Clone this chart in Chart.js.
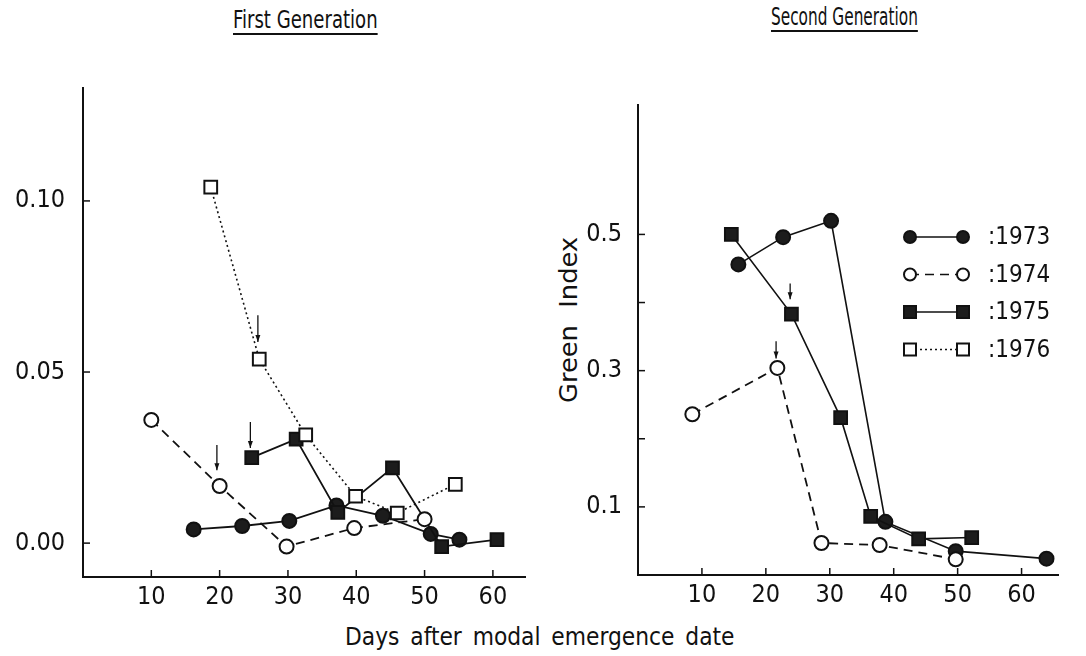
<!DOCTYPE html>
<html>
<head>
<meta charset="utf-8">
<script src="https://cdn.jsdelivr.net/npm/chart.js@4/dist/chart.umd.min.js"></script>
<style>
  body { margin: 0; background: #fff; width: 1086px; height: 656px; position: relative; overflow: hidden;
         font-family: "DejaVu Sans Condensed", "DejaVu Sans", sans-serif; color: #111; }
  #left { position: absolute; left: 0; top: 0; }
  #right { position: absolute; left: 540px; top: 0; }
  .fit { position: absolute; white-space: nowrap; line-height: 1; transform-origin: 0 0; }
  .title { font-size: 24px; text-decoration: underline; text-underline-offset: 5px; text-decoration-thickness: 1.5px; }
  #t1 { left: 233px; top: 8px; }
  #t2 { left: 771px; top: 5px; }
  #ylab { left: 556px; top: 403px; font-size: 25px; word-spacing: 8px; }
  #xlab { left: 345px; top: 624px; font-size: 25px; word-spacing: 4px; }
</style>
</head>
<body>
<div class="fit title" id="t1" data-w="145">First Generation</div>
<div class="fit title" id="t2" data-w="147">Second Generation</div>
<div class="fit" id="ylab" data-w="166" data-rot="1">Green Index</div>
<div class="fit" id="xlab" data-w="390">Days after modal emergence date</div>
<canvas id="left" width="540" height="656"></canvas>
<canvas id="right" width="546" height="656"></canvas>
<script>
// years shown in the key
const years = ["1973", "1974", "1975", "1976"];

// First generation (days after modal emergence, index)
const gen1Days1973 = [16.2, 23.3, 30.2, 37.1, 43.9, 50.9, 55.1];
const gen1Vals1973 = [0.004, 0.005, 0.0065, 0.011, 0.008, 0.0027, 0.001];
const gen1Days1974 = [10, 20, 29.8, 39.7, 50.0];
const gen1Vals1974 = [0.036, 0.0167, -0.001, 0.0044, 0.007];
const gen1Days1975 = [24.7, 31.2, 37.3, 45.3, 52.5, 60.6];
const gen1Vals1975 = [0.025, 0.0304, 0.009, 0.022, -0.001, 0.001];
const gen1Days1976 = [18.7, 25.8, 32.6, 39.9, 46.0, 54.5];
const gen1Vals1976 = [0.104, 0.0538, 0.0316, 0.0137, 0.0088, 0.0172];

// Second generation
const gen2Days1973 = [15.7, 22.7, 30.2, 38.7, 49.7, 63.9];
const gen2Vals1973 = [0.456, 0.496, 0.520, 0.078, 0.035, 0.024];
const gen2Days1974 = [8.5, 21.8, 28.7, 37.8, 49.7];
const gen2Vals1974 = [0.236, 0.304, 0.047, 0.044, 0.023];
const gen2Days1975 = [14.6, 24.0, 31.7, 36.4, 43.9, 52.2];
const gen2Vals1975 = [0.50, 0.383, 0.231, 0.086, 0.053, 0.055];

// down arrows: [day, top value, tip value]
const gen1Arrows = [[25.6, 0.0666, 0.0588], [24.5, 0.0354, 0.0278], [19.6, 0.0287, 0.0213]];
const gen2Arrows = [[23.8, 0.428, 0.405], [21.6, 0.343, 0.318]];

// ticks
const xTicks = [10, 20, 30, 40, 50, 60];
const gen1YTicks = [0, 0.05, 0.10];
const gen2YTicks = [0.1, 0.2, 0.3, 0.4, 0.5];
const gen2YLabelled = [0.1, 0.3, 0.5];

// squeeze the html labels to the widths they have in the figure
document.querySelectorAll(".fit").forEach(el => {
  const sx = +el.dataset.w / el.offsetWidth;
  el.style.transform = el.dataset.rot ? "rotate(-90deg) scale(" + sx + ",1)" : "scale(" + sx + ",1)";
});

const ink = "#111";
const fontStack = "'DejaVu Sans Condensed', 'DejaVu Sans', sans-serif";
const pts = (xs, ys) => xs.map((x, i) => ({ x: x, y: ys[i] }));

const styles = {
  "1973": { pointStyle: "circle", fill: "#1c1c1c", dash: [], radius: 7 },
  "1974": { pointStyle: "circle", fill: "#fff", dash: [9, 6], radius: 7 },
  "1975": { pointStyle: "rect", fill: "#1c1c1c", dash: [], radius: 9 },
  "1976": { pointStyle: "rect", fill: "#fff", dash: [2, 3], radius: 9 },
};

function makeSet(year, data, lw) {
  const s = styles[year];
  return {
    label: year,
    data: data,
    showLine: true,
    borderColor: ink,
    borderWidth: lw,
    borderDash: s.dash,
    pointStyle: s.pointStyle,
    pointRadius: s.radius,
    pointBackgroundColor: s.fill,
    pointBorderColor: ink,
    pointBorderWidth: 2,
    clip: false,
  };
}

const innerTicks = {
  id: "innerTicks",
  afterDraw(chart) {
    const { ctx, chartArea, scales } = chart;
    ctx.save();
    ctx.strokeStyle = ink;
    ctx.lineWidth = 1.5;
    scales.x.ticks.forEach(t => {
      const px = scales.x.getPixelForValue(t.value);
      ctx.beginPath(); ctx.moveTo(px, chartArea.bottom); ctx.lineTo(px, chartArea.bottom - 7); ctx.stroke();
    });
    scales.y.ticks.forEach(t => {
      const py = scales.y.getPixelForValue(t.value);
      ctx.beginPath(); ctx.moveTo(chartArea.left, py); ctx.lineTo(chartArea.left + 7, py); ctx.stroke();
    });
    // arrows
    (chart.options.plugins.innerTicks.arrows || []).forEach(a => {
      const px = scales.x.getPixelForValue(a[0]);
      const y1 = scales.y.getPixelForValue(a[1]);
      const y2 = scales.y.getPixelForValue(a[2]);
      ctx.lineWidth = 1.3;
      ctx.beginPath(); ctx.moveTo(px, y1); ctx.lineTo(px, y2); ctx.stroke();
      ctx.beginPath(); ctx.moveTo(px - 2.5, y2 - 7); ctx.lineTo(px, y2); ctx.lineTo(px + 2.5, y2 - 7); ctx.closePath();
      ctx.fillStyle = ink; ctx.fill();
    });
    ctx.restore();
  }
};

const yearKey = {
  id: "yearKey",
  afterDraw(chart) {
    if (!chart.options.plugins.yearKey.show) return;
    const { ctx, chartArea } = chart;
    ctx.save();
    years.forEach((yr, i) => {
      const s = styles[yr];
      const y = chartArea.top + 132 + i * 37.5;
      const x1 = chartArea.right - 148, x2 = chartArea.right - 95;
      ctx.strokeStyle = ink; ctx.lineWidth = 1.5;
      ctx.setLineDash(s.dash);
      ctx.beginPath(); ctx.moveTo(x1, y); ctx.lineTo(x2, y); ctx.stroke();
      ctx.setLineDash([]);
      [x1, x2].forEach(x => {
        ctx.beginPath();
        if (s.pointStyle === "circle") ctx.arc(x, y, 6, 0, Math.PI * 2);
        else ctx.rect(x - 6, y - 6, 12, 12);
        ctx.fillStyle = s.fill; ctx.fill(); ctx.lineWidth = 2; ctx.stroke();
      });
      ctx.fillStyle = ink;
      ctx.font = "24px " + fontStack;
      ctx.textBaseline = "middle";
      ctx.fillText(":" + yr, chartArea.right - 70, y + 1);
    });
    ctx.restore();
  }
};

function buildOptions(cfg) {
  return {
    responsive: false,
    animation: false,
    layout: { padding: cfg.padding },
    plugins: {
      legend: { display: false },
      tooltip: { enabled: false },
      innerTicks: { arrows: cfg.arrows },
      yearKey: { show: cfg.key },
    },
    scales: {
      x: {
        type: "linear",
        min: cfg.xMin, max: cfg.xMax,
        afterBuildTicks: s => { s.ticks = xTicks.map(v => ({ value: v })); },
        afterFit: s => { s.height = 50; },
        grid: { display: false, drawTicks: false },
        border: { display: true, color: ink, width: 2 },
        ticks: { color: ink, padding: 5, font: { family: fontStack, size: 25 }, callback: v => String(v) },
      },
      y: {
        type: "linear",
        min: cfg.yMin, max: cfg.yMax,
        afterBuildTicks: s => { s.ticks = cfg.yTicks.map(v => ({ value: v })); },
        afterFit: s => { s.width = cfg.yWidth; },
        grid: { display: false, drawTicks: false },
        border: { display: true, color: ink, width: 2 },
        ticks: { color: ink, padding: cfg.yPad, font: { family: fontStack, size: 25 }, callback: cfg.yFmt },
      },
    },
  };
}

new Chart(document.getElementById("left"), {
  type: "scatter",
  data: {
    datasets: [
      makeSet("1976", pts(gen1Days1976, gen1Vals1976), 1.6),
      makeSet("1974", pts(gen1Days1974, gen1Vals1974), 1.8),
      makeSet("1975", pts(gen1Days1975, gen1Vals1975), 1.8),
      makeSet("1973", pts(gen1Days1973, gen1Vals1973), 1.8),
    ],
  },
  options: buildOptions({
    padding: { left: 0, top: 88, right: 15, bottom: 29 },
    xMin: 0, xMax: 64.7, yMin: -0.0099, yMax: 0.133,
    yTicks: gen1YTicks, yWidth: 83, yPad: 18,
    yFmt: v => v.toFixed(2),
    arrows: gen1Arrows, key: false,
  }),
  plugins: [innerTicks, yearKey],
});

new Chart(document.getElementById("right"), {
  type: "scatter",
  data: {
    datasets: [
      makeSet("1974", pts(gen2Days1974, gen2Vals1974), 1.8),
      makeSet("1975", pts(gen2Days1975, gen2Vals1975), 1.6),
      makeSet("1973", pts(gen2Days1973, gen2Vals1973), 1.6),
    ],
  },
  options: buildOptions({
    padding: { left: 0, top: 105, right: 28, bottom: 31 },
    xMin: 0, xMax: 65.7, yMin: 0, yMax: 0.69,
    yTicks: gen2YTicks, yWidth: 98, yPad: 16,
    yFmt: v => (gen2YLabelled.some(l => Math.abs(l - v) < 1e-9) ? v.toFixed(1) : ""),
    arrows: gen2Arrows, key: true,
  }),
  plugins: [innerTicks, yearKey],
});
</script>
</body>
</html>
